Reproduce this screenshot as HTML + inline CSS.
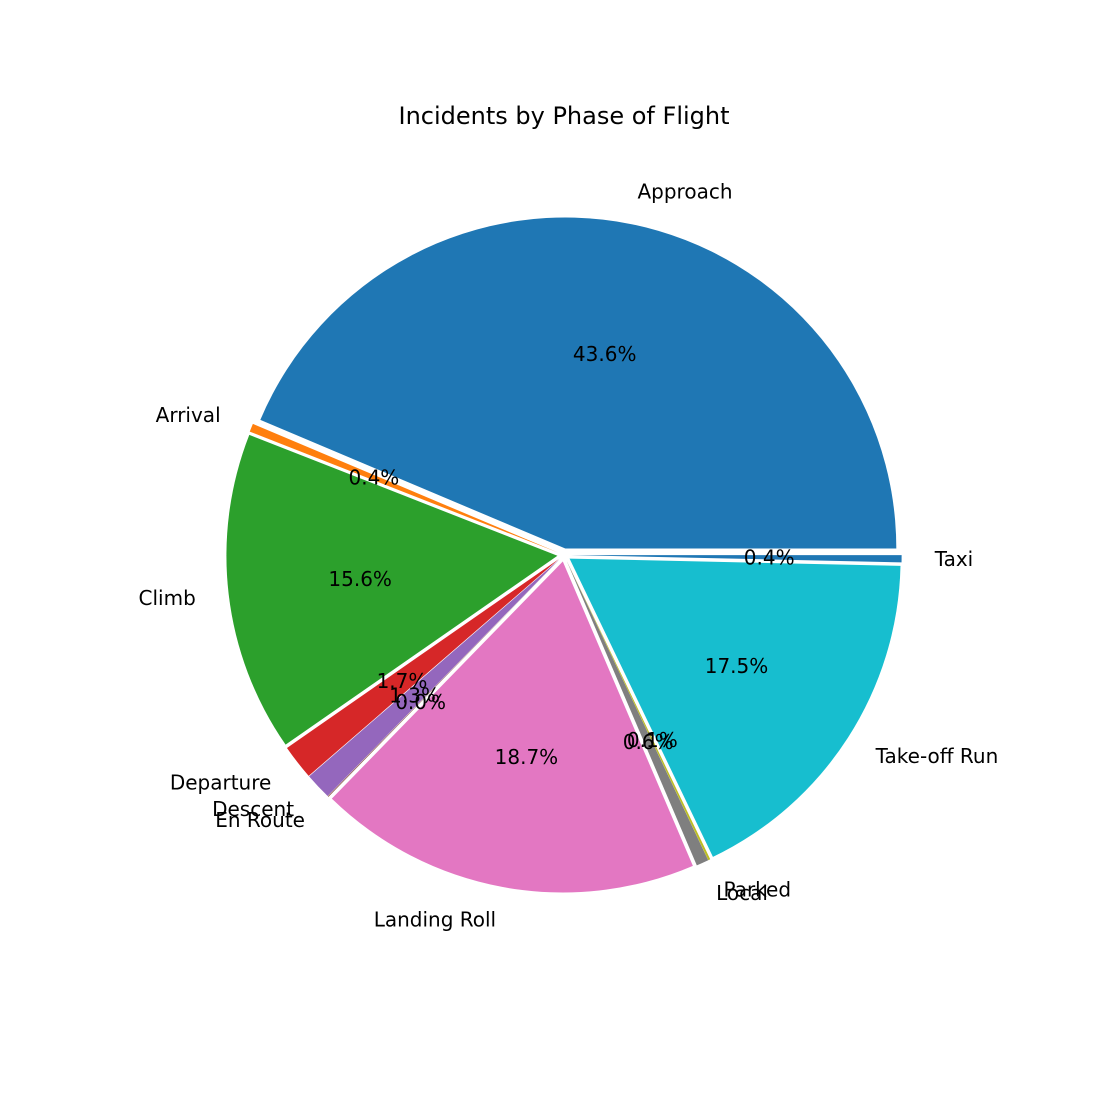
<!DOCTYPE html>
<html><head><meta charset="utf-8"><style>
body{margin:0;background:#fff}
svg text{font-family:"DejaVu Sans","Liberation Sans",sans-serif;font-size:20px;fill:#000}
</style></head><body>
<svg width="1100" height="1100" viewBox="0 0 1100 1100" id="chart">
<rect width="1100" height="1100" fill="#fff"/>
<text x="564" y="124" text-anchor="middle" style="font-size:24px">Incidents by Phase of Flight</text>
<g id="wedges"></g>
</svg>
<script>
const categories=["Approach","Arrival","Climb","Departure","Descent","En Route","Landing Roll","Local","Parked","Take-off Run","Taxi"];
const values=[43.6,0.4,15.6,1.7,1.3,0.04,18.7,0.6,0.1,17.5,0.35];
const colors=["#1f77b4","#ff7f0e","#2ca02c","#d62728","#9467bd","#8c564b","#e377c2","#7f7f7f","#bcbd22","#17becf","#1f77b4"];
const cx=564,cy=555,R=331,ex=0.02;
const g=document.getElementById('wedges');
const NS="http://www.w3.org/2000/svg";
const total=values.reduce((a,b)=>a+b,0);
let cum=0;
const labels=[],pcts=[];
values.forEach((v,i)=>{
  const a0=cum/total*2*Math.PI; cum+=v; const a1=cum/total*2*Math.PI;
  const am=(a0+a1)/2;
  const ox=cx+ex*R*Math.cos(am), oy=cy-ex*R*Math.sin(am);
  const x0=ox+R*Math.cos(a0),y0=oy-R*Math.sin(a0),x1=ox+R*Math.cos(a1),y1=oy-R*Math.sin(a1);
  const large=(a1-a0)>Math.PI?1:0;
  const p=document.createElementNS(NS,'path');
  p.setAttribute('d',`M${ox},${oy} L${x0},${y0} A${R},${R} 0 ${large} 0 ${x1},${y1} Z`);
  p.setAttribute('fill',colors[i]);
  
  
  g.appendChild(p);
  const lx=ox+1.1*R*Math.cos(am),ly=oy-1.1*R*Math.sin(am);
  const t=document.createElementNS(NS,'text');
  t.setAttribute('x',lx);t.setAttribute('y',ly+7);
  t.setAttribute('text-anchor',Math.cos(am)>=0?'start':'end');
  t.textContent=categories[i];
  
  
  labels.push(t);
  const px=ox+0.6*R*Math.cos(am),py=oy-0.6*R*Math.sin(am);
  const q=document.createElementNS(NS,'text');
  q.setAttribute('x',px);q.setAttribute('y',py+7);
  q.setAttribute('text-anchor','middle');
  q.textContent=(v/total*100).toFixed(1)+'%';
  
  
  pcts.push(q);
});
labels.forEach(t=>g.appendChild(t));
pcts.forEach(t=>g.appendChild(t));
</script>
</body></html>
